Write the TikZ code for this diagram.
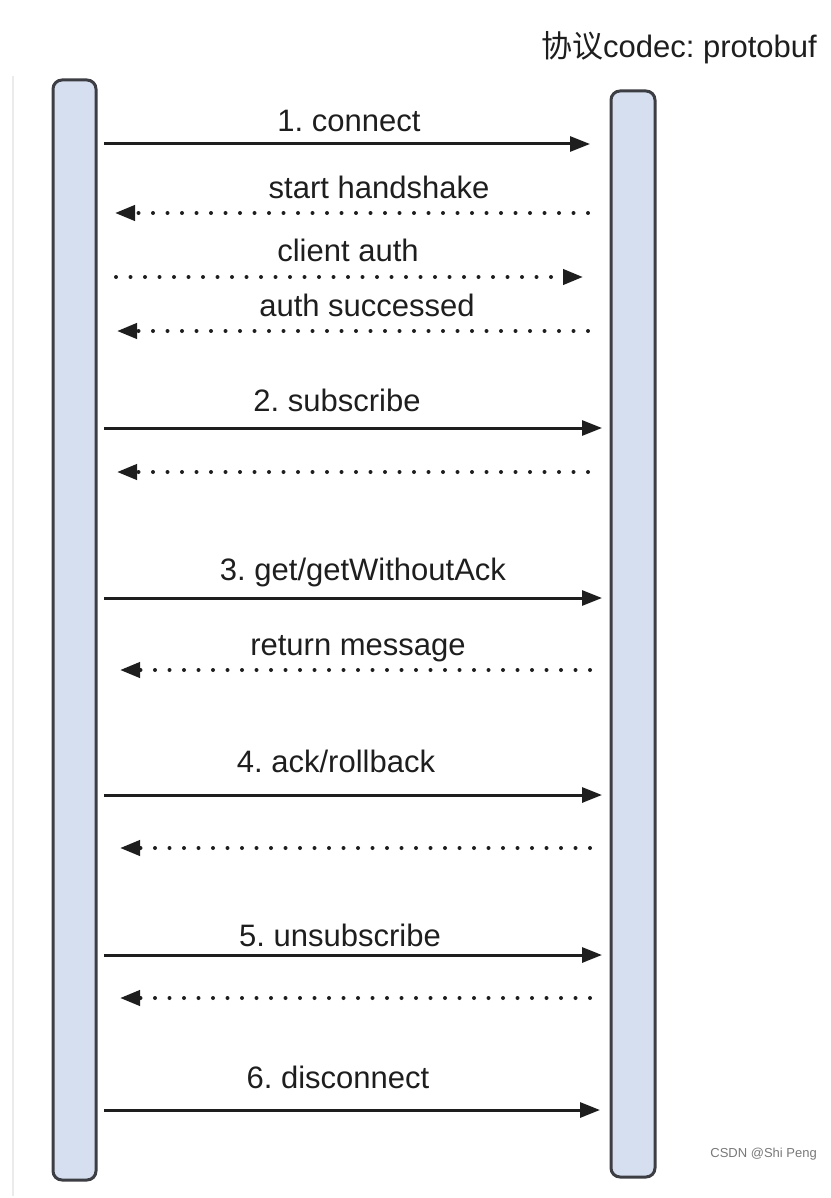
\documentclass[tikz,border=0pt]{standalone}
\usepackage{fontspec}
\setmainfont{Liberation Sans}
\newfontfamily\cjk{Noto Sans CJK SC}
\usepackage{xcolor}
\usetikzlibrary{arrows.meta, positioning, calc}
\frenchspacing
\definecolor{barfill}{RGB}{213, 223, 239}
\definecolor{bardraw}{RGB}{60, 62, 68}
\definecolor{msgink}{RGB}{30, 30, 30}
\definecolor{wmgray}{RGB}{120, 120, 120}
\tikzset{
  lifebar/.style={rectangle, rounded corners=9pt, draw=bardraw, fill=barfill,
                  line width=3pt, inner sep=0pt},
  callmsg/.style={-{Triangle[length=20pt, width=15pt]}, line width=3pt, color=msgink},
  backmsg/.style={-{Triangle[length=20pt, width=15pt]}, line width=4pt, color=msgink,
                  line cap=round, dash pattern=on 0pt off 14.5pt},
  msglabel/.style={anchor=base, inner sep=0pt, font=\fontsize{31}{36}\selectfont, text=msgink},
}

\begin{document}
\begin{tikzpicture}[x=1pt, y=-1pt]
        \useasboundingbox (0,0) rectangle (830,1198);
        \draw[black!8, line width=1.5pt] (13,76) -- (13,1196);

        % the two parties
        \node[lifebar, minimum width=43pt, minimum height=1100pt] (client) at (74.5,630) {};
        \node[lifebar, minimum width=44pt, minimum height=1086pt] (server) at (633,634) {};

        \node[anchor=base east, inner sep=0pt, font=\fontsize{31}{36}\selectfont, text=msgink]
              (codec) at (817,58) {{\cjk 协议}codec: protobuf};

        % client -> server calls
        \foreach \name/\y/\tip/\lx/\ly/\txt in {
            m1/144/590/349/132/{1. connect},
            m5/428/602/337/411/{2. subscribe},
            m7/598/602/363/580/{3. get/getWithoutAck},
            m9/795/602/336/772/{4. ack/rollback},
            m11/955/602/340/946/{5. unsubscribe},
            m13/1110/600/338/1088/{6. disconnect}} {
          \coordinate (\name a) at (104,\y);
          \coordinate (\name b) at (\tip,\y);
          \node[msglabel] (\name t) at (\lx,\ly) {\txt};
          \draw[callmsg] (\name a) -- (\name b);
        }

        % dotted messages
        \foreach \name/\y/\from/\tip in {
            m2/213/588/115, m4/331/588/117, m6/472/588/117,
            m8/670/590/120, m10/848/590/120, m12/998/590/120} {
          \coordinate (\name a) at (\from,\y);
          \coordinate (\name b) at (\tip,\y);
          \draw[backmsg] (\name a) -- (\name b);
        }
        \coordinate (m3a) at (116,277);
        \coordinate (m3b) at (583,277);
        \draw[backmsg] (m3a) -- (m3b);

        \node[msglabel] (m2t) at (379,199) {start handshake};
        \node[msglabel] (m3t) at (348,261) {client auth};
        \node[msglabel] (m4t) at (367,316) {auth successed};
        \node[msglabel] (m8t) at (358,655) {return message};

        \node[anchor=base east, inner sep=0pt, font=\fontsize{13}{15}\selectfont, text=wmgray]
              (mark) at (817,1157) {CSDN @Shi Peng};
      \end{tikzpicture}
\end{document}
